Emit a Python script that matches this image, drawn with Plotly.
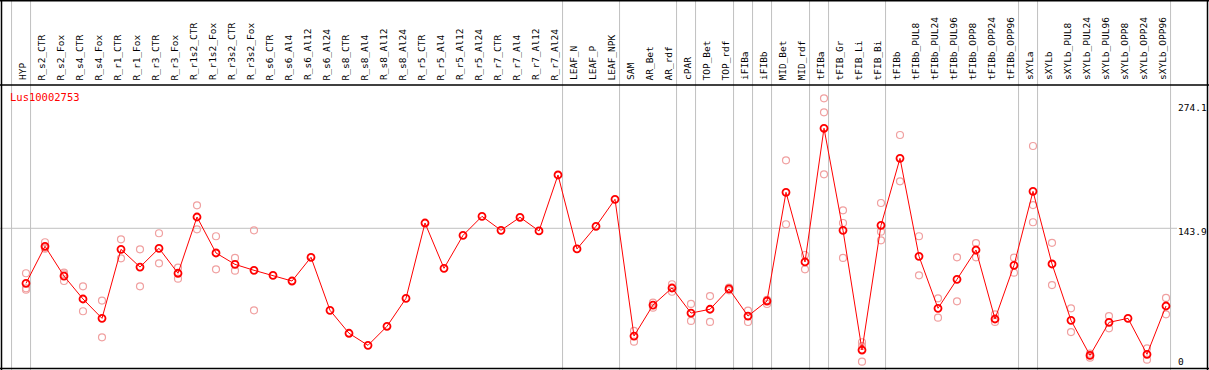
import plotly.graph_objects as go

W, H = 1209, 370

categories = [
    "HYP", "R_s2_CTR", "R_s2_Fox", "R_s4_CTR", "R_s4_Fox", "R_r1_CTR", "R_r1_Fox",
    "R_r3_CTR", "R_r3_Fox", "R_r1s2_CTR", "R_r1s2_Fox", "R_r3s2_CTR", "R_r3s2_Fox",
    "R_s6_CTR", "R_s6_Al4", "R_s6_Al12", "R_s6_Al24", "R_s8_CTR", "R_s8_Al4",
    "R_s8_Al12", "R_s8_Al24", "R_r5_CTR", "R_r5_Al4", "R_r5_Al12", "R_r5_Al24",
    "R_r7_CTR", "R_r7_Al4", "R_r7_Al12", "R_r7_Al24", "LEAF_N", "LEAF_P", "LEAF_NPK",
    "SAM", "AR_Bet", "AR_rdf", "cPAR", "TOP_Bet", "TOP_rdf", "iFIBa", "iFIBb",
    "MID_Bet", "MID_rdf", "tFIBa", "tFIB_Gr", "tFIB_Li", "tFIB_Bi", "tFIBb",
    "tFIBb_PUL8", "tFIBb_PUL24", "tFIBb_PUL96", "tFIBb_OPP8", "tFIBb_OPP24",
    "tFIBb_OPP96", "sXYLa", "sXYLb", "sXYLb_PUL8", "sXYLb_PUL24", "sXYLb_PUL96",
    "sXYLb_OPP8", "sXYLb_OPP24", "sXYLb_OPP96",
]

means = [
    86.4, 125.1, 94.0, 70.0, 49.8, 121.9, 103.4, 123.0, 96.9, 155.7, 118.1, 106.2, 100.0,
    94.7, 88.8, 113.6, 58.2, 34.2, 21.6, 41.5, 70.7, 149.4, 102.1, 136.5, 156.4,
    141.8, 155.4, 141.1, 199.6, 122.3, 146.0, 174.2,
    31.3, 63.7, 81.5, 55.3, 59.3, 80.5, 52.2, 67.9, 181.5, 108.7, 248.4, 141.8, 16.7,
    147.0, 217.0, 114.6, 60.3, 90.6, 121.2, 49.1, 105.2, 182.5, 106.6, 47.7, 11.1,
    45.6, 49.8, 12.2, 62.7,
]

replicates = [
    [96.9, 81.2, 79.7], [129.3, 122.5, 123.5], [97.5, 88.8, 95.7], [83.3, 57.2],
    [68.4, 30.0], [132.4, 112.5], [121.9, 83.3], [138.7, 107.3], [102.7, 91.2],
    [167.9, 142.8], [135.6, 101.0], [112.9, 99.6], [141.8, 58.2],
    [], [], [], [], [], [], [], [], [], [], [], [], [], [], [], [], [], [], [],
    [36.6, 25.4], [66.2, 60.9], [85.4, 77.6], [64.9, 47.1], [73.1, 46.1], [81.9, 79.1],
    [57.8, 46.0], [69.0, 64.8], [214.9, 148.1], [116.0, 101.0], [279.7, 265.1, 200.3],
    [162.7, 149.4, 112.9], [24.8, 20.9, 4.5], [170.3, 140.4, 131.3], [241.4, 193.0],
    [135.6, 94.7], [70.7, 50.5], [113.6, 67.6], [128.4, 113.6], [54.0, 46.1],
    [113.2, 97.5], [229.9, 168.2, 150.2], [128.7, 84.6], [60.3, 35.5], [12.9, 8.7],
    [52.2, 39.4], [], [18.5, 6.6], [71.1, 54.0],
]

# group ends: a separator line is drawn right after these categories
group_ends = ["HYP", "R_r7_Al24", "LEAF_NPK", "AR_rdf", "cPAR", "TOP_rdf", "iFIBa",
              "iFIBb", "MID_rdf", "tFIBa", "tFIB_Bi", "tFIBb_OPP96", "sXYLa", "sXYLb_OPP96"]

y_ticks = [274.1, 143.9, 0]
y_tick_text = ["274.1", "143.9", "0"]
gene = "Lus10002753"

# ---- layout geometry (pixels) ----
x0_px, step_px = 26.0, 19.0      # first category centre / category spacing
y0_px, unit_px = 366.0, 0.957    # pixel of value 0 / pixels per unit
header_px = 85.0

def px_to_x(px):
    return (px - x0_px) / step_px

def px_to_y(py):
    return (y0_px - py) / unit_px

idx = list(range(len(categories)))
rep_x, rep_y = [], []
for i, reps in enumerate(replicates):
    for r in reps:
        rep_x.append(i)
        rep_y.append(r)

fig = go.Figure()
fig.add_trace(go.Scatter(
    x=rep_x, y=rep_y, mode="markers",
    marker=dict(symbol="circle-open", size=7, color="#f0a0a0", line=dict(width=1.2, color="#f0a0a0")),
    hoverinfo="skip", showlegend=False,
))
fig.add_trace(go.Scatter(
    x=idx, y=means, mode="lines+markers",
    line=dict(color="#ff0000", width=1),
    marker=dict(symbol="circle-open", size=7, color="#ff0000", line=dict(width=1.8, color="#ff0000")),
    showlegend=False,
))

shapes = []
# vertical separators
sep_x = [-1 + 0.24] + [categories.index(c) + 0.24 for c in group_ends]
for sx in sep_x:
    shapes.append(dict(type="line", xref="x", yref="paper", x0=sx, x1=sx, y0=0, y1=1,
                       line=dict(color="#c0c0c0", width=1), layer="below"))
# horizontal mid line
shapes.append(dict(type="line", xref="paper", yref="y", x0=0, x1=1177 / W,
                   y0=y_ticks[1], y1=y_ticks[1], line=dict(color="#c0c0c0", width=1), layer="below"))
# header separator and borders
hy = 1 - header_px / H
shapes.append(dict(type="line", xref="paper", yref="paper", x0=0, x1=1, y0=hy, y1=hy,
                   line=dict(color="black", width=1.5)))
shapes.append(dict(type="line", xref="paper", yref="paper", x0=0, x1=1, y0=1 - 0.5 / H, y1=1 - 0.5 / H,
                   line=dict(color="black", width=2)))
shapes.append(dict(type="line", xref="paper", yref="paper", x0=0, x1=1, y0=1.5 / H, y1=1.5 / H,
                   line=dict(color="black", width=1.5)))
shapes.append(dict(type="line", xref="paper", yref="paper", x0=1.5 / W, x1=1.5 / W, y0=0, y1=1,
                   line=dict(color="black", width=1.5)))
shapes.append(dict(type="line", xref="paper", yref="paper", x0=1207.5 / W, x1=1207.5 / W, y0=0, y1=1,
                   line=dict(color="black", width=1.5)))

annotations = []
for i, c in enumerate(categories):
    annotations.append(dict(
        x=i - 0.21, y=1 - 82.5 / H, xref="x", yref="paper", text=c, textangle=-90,
        showarrow=False, xanchor="center", yanchor="bottom",
        font=dict(family="DejaVu Sans Mono", size=9.5, color="black"),
    ))
annotations.append(dict(
    x=8 / W, y=1 - 97 / H, xref="paper", yref="paper", text=gene, showarrow=False,
    xanchor="left", yanchor="middle", font=dict(family="DejaVu Sans Mono", size=10.5, color="red"),
))
shifts = [-3.5, -3.5, 4.3]
for v, t, s in zip(y_ticks, y_tick_text, shifts):
    annotations.append(dict(
        x=1177 / W, y=v, xref="paper", yref="y", text=t,
        showarrow=False, xanchor="left", yanchor="middle", yshift=s, borderpad=0,
        font=dict(family="DejaVu Sans Mono", size=9.5, color="black"),
    ))

fig.update_layout(
    width=W, height=H, margin=dict(l=0, r=0, t=0, b=0),
    paper_bgcolor="white", plot_bgcolor="white",
    xaxis=dict(range=[px_to_x(0), px_to_x(W)], visible=False, fixedrange=True),
    yaxis=dict(range=[px_to_y(H), px_to_y(0)], visible=False, fixedrange=True),
    shapes=shapes, annotations=annotations, showlegend=False,
)

fig.write_html("out.html", config={"displayModeBar": False},
               post_script="document.body.style.margin='0';document.body.style.overflow='hidden';")
